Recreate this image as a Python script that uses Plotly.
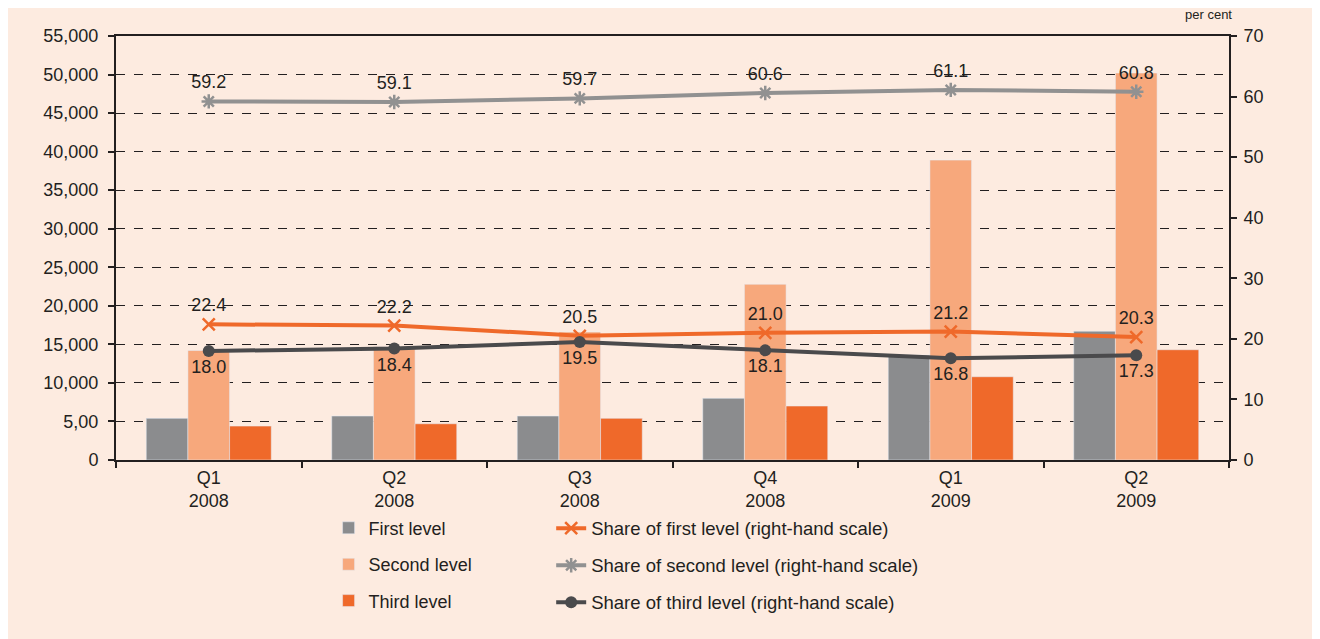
import plotly.graph_objects as go

quarters = ["Q1<br>2008", "Q2<br>2008", "Q3<br>2008", "Q4<br>2008", "Q1<br>2009", "Q2<br>2009"]

first_level = [5400, 5700, 5700, 8000, 13600, 16700]
second_level = [14200, 14700, 16600, 22800, 38900, 50200]
third_level = [4400, 4700, 5400, 7000, 10800, 14300]

share_first = [22.4, 22.2, 20.5, 21.0, 21.2, 20.3]
share_second = [59.2, 59.1, 59.7, 60.6, 61.1, 60.8]
share_third = [18.0, 18.4, 19.5, 18.1, 16.8, 17.3]

left_ticks = [0, 5000, 10000, 15000, 20000, 25000, 30000, 35000, 40000, 45000, 50000, 55000]
left_labels = ["0", "5,00", "10,000", "15,000", "20,000", "25,000", "30,000",
               "35,000", "40,000", "45,000", "50,000", "55,000"]

bg = "#fdebe0"
ink = "#231f20"
grey = "#8b8c8e"
light_orange = "#f7a87c"
orange = "#ef692a"
line_grey = "#919191"
dark = "#4a4a4c"

fig = go.Figure()

fig.add_trace(go.Bar(x=quarters, y=first_level, name="First level", marker_color=grey,
                     legend="legend", legendgroup="a"))
fig.add_trace(go.Bar(x=quarters, y=second_level, name="Second level", marker_color=light_orange,
                     legend="legend", legendgroup="b"))
fig.add_trace(go.Bar(x=quarters, y=third_level, name="Third level", marker_color=orange,
                     legend="legend", legendgroup="c"))

fig.add_trace(go.Scatter(
    x=quarters, y=share_first, yaxis="y2", name="Share of first level (right-hand scale)",
    mode="lines+markers+text", text=[f"{v:.1f}" for v in share_first], textposition="top center",
    textfont=dict(size=18, color=ink),
    line=dict(color=orange, width=4),
    marker=dict(symbol="x-thin-open", size=12, line=dict(color=orange, width=2.5)),
    legend="legend2", legendgroup="d"))
fig.add_trace(go.Scatter(
    x=quarters, y=share_second, yaxis="y2", name="Share of second level (right-hand scale)",
    mode="lines+markers+text", text=[f"{v:.1f}" for v in share_second], textposition="top center",
    textfont=dict(size=18, color=ink),
    line=dict(color=line_grey, width=4),
    marker=dict(symbol="asterisk-open", size=12, line=dict(color=line_grey, width=2.5)),
    legend="legend2", legendgroup="e"))
fig.add_trace(go.Scatter(
    x=quarters, y=share_third, yaxis="y2", name="Share of third level (right-hand scale)",
    mode="lines+markers+text", text=[f"{v:.1f}" for v in share_third], textposition="bottom center",
    textfont=dict(size=18, color=ink),
    line=dict(color=dark, width=4),
    marker=dict(symbol="circle", size=12, color=dark),
    legend="legend2", legendgroup="f"))

fig.update_layout(
    width=1320, height=639,
    paper_bgcolor=bg, plot_bgcolor=bg,
    margin=dict(l=108, r=99, t=28, b=187),
    font=dict(family="Liberation Sans, Arial, sans-serif", size=18, color=ink),
    barmode="group", bargap=0.326, bargroupgap=0,
    xaxis=dict(type="category", showline=True, linecolor=ink, linewidth=2, mirror=True,
               ticks="outside", tickson="boundaries", ticklen=6, tickwidth=2, tickcolor=ink,
               showgrid=False),
    yaxis=dict(range=[0, 55000], tickvals=left_ticks, ticktext=left_labels,
               showline=True, linecolor=ink, linewidth=2, ticks="outside", ticklen=6,
               tickwidth=2, tickcolor=ink, showgrid=True, gridcolor=ink, gridwidth=1,
               griddash="dash", zeroline=False, ticklabelstandoff=6),
    yaxis2=dict(range=[0, 70], dtick=10, overlaying="y", side="right", showline=True,
                linecolor=ink, linewidth=2, ticks="outside", ticklen=6, tickwidth=2,
                tickcolor=ink, showgrid=False, zeroline=False, ticklabelstandoff=3),
    legend=dict(x=0.191, y=-0.117, xanchor="left", yanchor="top", bgcolor="rgba(0,0,0,0)",
                tracegroupgap=10, font=dict(size=18)),
    legend2=dict(x=0.391, y=-0.117, xanchor="left", yanchor="top", bgcolor="rgba(0,0,0,0)",
                 tracegroupgap=10, font=dict(size=18.5)),
    annotations=[dict(text="per cent", xref="paper", yref="paper", x=0.982, y=1.028,
                      xanchor="center", yanchor="bottom", showarrow=False,
                      font=dict(size=13, color=ink))],
)

fig.write_html("out.html")
